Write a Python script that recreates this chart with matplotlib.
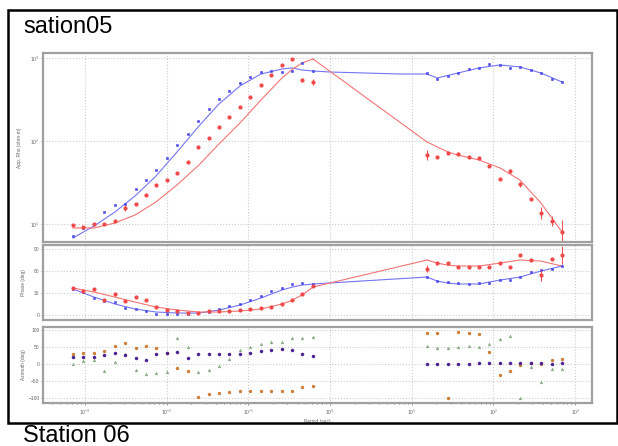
import numpy as np
import matplotlib.pyplot as plt
from matplotlib.patches import Rectangle
from matplotlib.ticker import NullFormatter

plt.rcParams['font.family'] = ['Liberation Sans', 'DejaVu Sans']

# periods (s) of the measured points, two recording bands
per_lo = [7.13e-4, 9.55e-4, 1.285e-3, 1.72e-3, 2.31e-3, 3.10e-3, 4.16e-3, 5.58e-3,
          7.48e-3, 1.005e-2, 1.35e-2, 1.81e-2, 2.43e-2, 3.26e-2, 4.37e-2, 5.87e-2,
          7.87e-2, 0.1054, 0.1416, 0.190, 0.255, 0.342, 0.459, 0.618]
per_hi = [15.35, 20.6, 27.6, 36.9, 49.5, 66.3, 88.9, 119, 159, 213, 286, 384, 514, 689]

# apparent resistivity (ohm-m)
rho_xy_lo = [7.2, 8.95, 10.0, 14.0, 16.9, 17.4, 26.4, 33.9, 44.8, 62.4, 89.5, 121,
             174, 243, 321, 400, 500, 590, 678, 697, 678, 697, 871, 697]
rho_xy_hi = [659, 558, 607, 659, 736, 758, 847, 824, 758, 779, 717, 659, 558, 514]
rho_yx_lo = [9.7, 9.2, 10.0, 10.0, 10.9, 15.6, 17.4, 22.4, 29.5, 33.9, 41.1, 55.8,
             84.7, 109, 147, 195, 257, 339, 473, 624, 824, 972, 543, 514]
rho_yx_hi = [67.8, 64.1, 71.7, 69.7, 64.1, 62.4, 50.0, 34.8, 43.5, 30.3, 20.0, 13.6, 10.9, 8.0]
# log10 error of the red resistivities
err_yx_lo = [0, 0, 0, 0, 0, 0.04, 0, 0, 0, 0, 0, 0, 0, 0, 0, 0, 0, 0, 0, 0, 0, 0, 0.03, 0.04]
err_yx_hi = [0.06, 0, 0, 0, 0, 0, 0, 0, 0.03, 0.03, 0, 0.07, 0.06, 0.15]

# phase (deg)
ph_xy_lo = [35, 31, 23, 19, 18, 9.5, 8, 5.5, 1.4, 1, 1, 1.4, 3, 4, 8, 12, 15, 20,
            26, 33, 37, 42, 43, 42]
ph_xy_hi = [52, 46, 45, 43, 42, 43, 44, 48, 48, 52, 59, 61, 63, 67]
ph_yx_lo = [37, 33, 35, 20, 29, 19, 25, 20, 11, 7, 6, 3, 3, 5.5, 6, 6, 7, 8, 9, 11,
            15, 20, 29, 40]
ph_yx_hi = [63, 71, 71, 66, 65, 66, 65, 71, 66, 82, 75, 54, 76, 82]
perr_yx_hi = [5, 0, 0, 0, 0, 0, 0, 0, 0, 0, 0, 8, 0, 12]

# model curves: log10 period, log10 rho / phase
cur_t = [-3.147, -2.890, -2.633, -2.388, -2.131, -1.874, -1.605, -1.360, -1.103,
         -0.846, -0.589, -0.466, -0.344, -0.209]
cur_t2 = [1.186, 1.309, 1.443, 1.566, 1.823, 2.080, 2.324, 2.581, 2.838]
crho_yx = [0.952, 0.952, 1.012, 1.108, 1.265, 1.470, 1.711, 1.964, 2.217, 2.494,
           2.759, 2.860, 2.940, 2.988]
crho_yx2 = [1.988, 1.930, 1.867, 1.830, 1.771, 1.675, 1.530, 1.253, 0.904]
crho_xy = [0.831, 0.976, 1.145, 1.337, 1.578, 1.867, 2.181, 2.446, 2.663, 2.807,
           2.867, 2.880, 2.855, 2.843]
crho_xy2 = [2.807, 2.759, 2.790, 2.819, 2.880, 2.916, 2.892, 2.819, 2.711]
cph_xy = [35.5, 24.5, 15, 8.2, 4.1, 2.7, 2.7, 6.8, 13.6, 23.2, 34.1, 38, 40.9, 42.3]
cph_xy2 = [51.8, 46.4, 43.5, 42.3, 42.3, 47.7, 51.8, 60, 66.8]
cph_yx = [36.8, 31.4, 24.5, 17.7, 10.9, 6.8, 4.1, 4.1, 5.5, 8.2, 15, 20, 27.3, 38.2]
cph_yx2 = [75, 70.9, 68, 66.8, 66.8, 70.9, 75, 73.6, 66.8]

# strike / azimuth (deg)
az_a_lo = [29, 32, 32, 38, 53, 62, 47, 53, 47, 32, -12, -21, -97, -88, -85, -82,
           -79, -79, -79, -79, -79, -79, -68, -65]
az_a_hi = [91, 91, -100, 94, 91, 88, 35, -32, -21, -3, 3, 0, 12, 15]
az_b_lo = [20, 20, 20, 26, 32, 26, 18, 12, 29, 32, 35, 18, 29, 29, 29, 29, 29, 32,
           38, 41, 44, 41, 29, 24]
az_b_hi = [0, 0, 0, 0, 0, 2, 2, 3, 3, 3, 2, 2, 0, 2]
az_c_lo = [0, 9, 12, -21, 6, 30, -18, -29, -26, -24, 76, 50, -24, -18, -6, 15, 41,
           50, 59, 65, 65, 76, 76, 79]
az_c_hi = [53, 47, 47, 50, 53, 50, 59, 74, 82, -100, -9, -53, -15, -15]

x_major = [1e-3, 1e-2, 1e-1, 1e0, 1e1, 1e2, 1e3]

BLUE = '#4848e8'
RED = '#f04848'
BLUE_L = '#7474f4'
RED_L = '#f47474'

W, H = 618, 446
fig = plt.figure(figsize=(W / 100, H / 100), dpi=100)


def add_ax(x0, y0, x1, y1):
    return fig.add_axes([x0 / W, 1 - y1 / H, (x1 - x0) / W, (y1 - y0) / H])


ax1 = add_ax(43, 53, 592, 242)
ax2 = add_ax(43, 245, 592, 320)
ax3 = add_ax(43, 327, 592, 403)

xlim = (10 ** -3.514, 10 ** 3.206)
x_minor = [m * 10.0 ** d for d in range(-4, 4) for m in range(2, 10)
           if xlim[0] < m * 10.0 ** d < xlim[1]]
for ax in (ax1, ax2, ax3):
    ax.set_xscale('log')
    ax.set_xlim(*xlim)
    ax.set_xticks(x_major)
    ax.set_xticks(x_minor, minor=True)
    ax.xaxis.set_minor_formatter(NullFormatter())
    ax.grid(True, which='major', color='#cccccc', linestyle=':', linewidth=0.8)
    for s in ax.spines.values():
        s.set_color('#a0a0a0')
        s.set_linewidth(1.6)
    ax.tick_params(labelsize=3.5, colors='#666666', length=1.5, width=0.5, pad=1)
    ax.tick_params(which='minor', length=1, width=0.4)
for ax in (ax1, ax2):
    ax.tick_params(axis='x', which='both', labelbottom=False, length=0)

lo = np.array(per_lo)
hi = np.array(per_hi)

# resistivity
ax1.set_yscale('log')
ax1.set_ylim(10 ** 0.783, 10 ** 3.06)
ax1.set_yticks([10, 100, 1000])
ax1.set_yticks([m * 10.0 ** d for d in (0, 1, 2) for m in range(2, 10)
                if 10 ** 0.783 < m * 10.0 ** d < 10 ** 3.06], minor=True)
ax1.yaxis.set_minor_formatter(NullFormatter())
ax1.plot(10 ** np.array(cur_t), 10 ** np.array(crho_xy), color=BLUE_L, lw=0.8)
ax1.plot(10 ** np.array([-0.209, 0.0, 0.856, 1.186]), 10 ** np.array([2.843, 2.831, 2.807, 2.807]),
         color=BLUE_L, lw=0.8)
ax1.plot(10 ** np.array(cur_t2), 10 ** np.array(crho_xy2), color=BLUE_L, lw=0.8)
ax1.plot(10 ** np.array(cur_t), 10 ** np.array(crho_yx), color=RED_L, lw=0.8)
ax1.plot(10 ** np.array([-0.209, 1.186]), 10 ** np.array([2.988, 1.988]), color=RED_L, lw=0.8)
ax1.plot(10 ** np.array(cur_t2), 10 ** np.array(crho_yx2), color=RED_L, lw=0.8)

for p, r in ((lo, rho_xy_lo), (hi, rho_xy_hi)):
    ax1.plot(p, r, 's', ms=2.0, color=BLUE, mec=BLUE, mew=0.4)
for p, r, e in ((lo, rho_yx_lo, err_yx_lo), (hi, rho_yx_hi, err_yx_hi)):
    r = np.array(r)
    e = np.array(e)
    yerr = [r - r * 10 ** -e, r * 10 ** e - r]
    ax1.errorbar(p, r, yerr=yerr, fmt='o', ms=2.0, color=RED, ecolor=RED, elinewidth=0.7,
                 capsize=0)
ax1.set_ylabel('App. Rho (ohm-m)', fontsize=3.5, color='#666666', labelpad=6)

# phase
ax2.set_ylim(-6.8, 95.5)
ax2.set_yticks([0, 30, 60, 90])
ax2.plot(10 ** np.array(cur_t), cph_xy, color=BLUE_L, lw=0.8)
ax2.plot(10 ** np.array([-0.209, 1.186]), [42.3, 51.8], color=BLUE_L, lw=0.8)
ax2.plot(10 ** np.array(cur_t2), cph_xy2, color=BLUE_L, lw=0.8)
ax2.plot(10 ** np.array(cur_t), cph_yx, color=RED_L, lw=0.8)
ax2.plot(10 ** np.array([-0.209, 1.186]), [38.2, 75], color=RED_L, lw=0.8)
ax2.plot(10 ** np.array(cur_t2), cph_yx2, color=RED_L, lw=0.8)
ax2.plot(lo, ph_xy_lo, 's', ms=2.0, color=BLUE, mew=0.4)
ax2.plot(hi, ph_xy_hi, 's', ms=2.0, color=BLUE, mew=0.4)
ax2.plot(lo, ph_yx_lo, 'o', ms=2.0, color=RED)
ax2.errorbar(hi, ph_yx_hi, yerr=perr_yx_hi, fmt='o', ms=2.0, color=RED, elinewidth=0.7,
             capsize=0)
ax2.set_ylabel('Phase (deg)', fontsize=3.5, color='#666666', labelpad=6)

# azimuth
ax3.set_ylim(-114.7, 108.8)
ax3.set_yticks([-100, -50, 0, 50, 100])
for p, a in ((lo, az_c_lo), (hi, az_c_hi)):
    ax3.plot(p, a, '^', ms=2.0, color='#94b090', mec='#80a07c', mew=0.3)
for p, a in ((lo, az_a_lo), (hi, az_a_hi)):
    ax3.plot(p, a, 'o', ms=2.1, color='#d47e30', mec='#bf6e26', mew=0.3)
for p, a in ((lo, az_b_lo), (hi, az_b_hi)):
    ax3.plot(p, a, 'o', ms=2.2, color='#4e2298', mec='#3e1884', mew=0.3)
ax3.set_ylabel('Azimuth (deg)', fontsize=3.5, color='#666666', labelpad=2)
ax3.set_xlabel('Period (sec)', fontsize=3.5, color='#666666', labelpad=1)
ax3.tick_params(axis='x', which='major', pad=2)

# frame and station titles
fig.add_artist(Rectangle((8 / W, 1 - 423 / H), (617 - 8) / W, (423 - 10) / H,
                         transform=fig.transFigure, fill=False, lw=1.8, ec='black'))
fig.text(23 / W, 1 - 33 / H, 'sation05', fontsize=17, va='baseline', ha='left')
fig.text(23 / W, 1 - 442 / H, 'Station 06', fontsize=17, va='baseline', ha='left')

fig.savefig('out.png', dpi=100)
